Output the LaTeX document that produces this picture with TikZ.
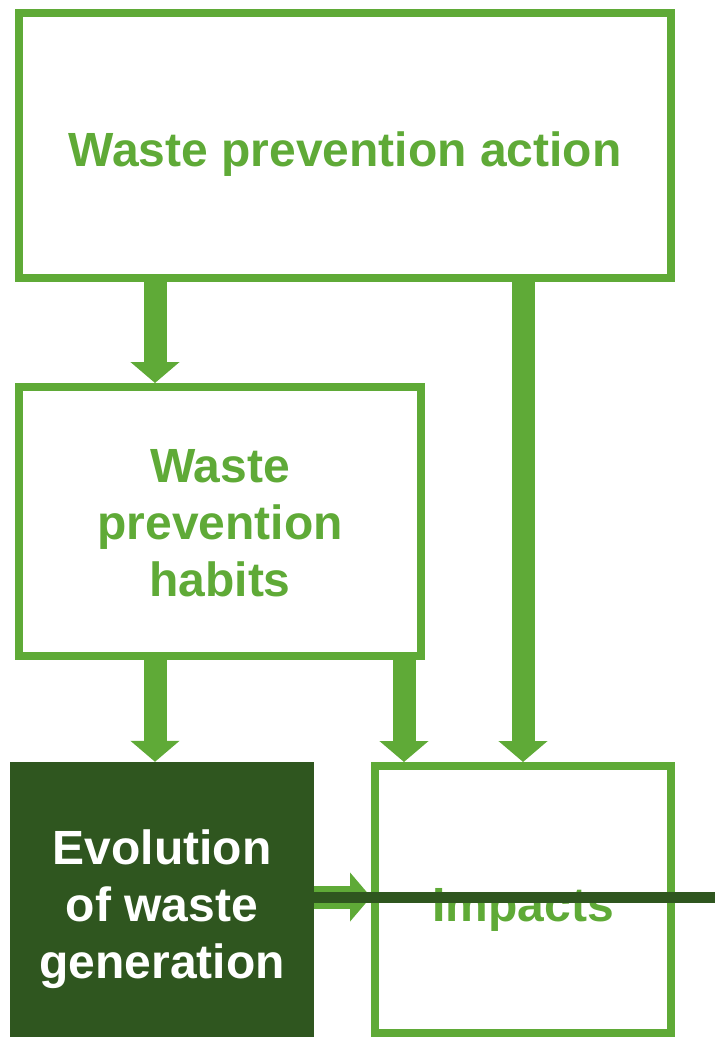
\documentclass[tikz,border=0pt]{standalone}
\usepackage{fontspec}
\setmainfont{Liberation Sans}
\usetikzlibrary{arrows.meta}
\definecolor{leaf}{RGB}{95,170,55}
\definecolor{forest}{RGB}{47,86,31}
\begin{document}
\begin{tikzpicture}[x=1pt, y=-1pt,
        box/.style={draw=leaf, line width=8pt, fill=white, inner sep=0pt, align=center,
            text=leaf, font=\fontsize{48}{57}\selectfont\bfseries},
        darkbox/.style={fill=forest, inner sep=0pt, align=center,
            text=white, font=\fontsize{48}{57}\selectfont\bfseries},
        flow/.style={leaf, line width=23pt, -{Triangle[width=48pt, length=21pt]}},
        thread/.style={forest, line width=11pt}]
        \useasboundingbox (0, 0) rectangle (715, 1037);

        \node[box, minimum width=652pt, minimum height=265pt, text height=51pt, text depth=10pt] (action) at (345, 145.5) {Waste prevention action};
        \node[box, minimum width=402pt, minimum height=269pt] (habits) at (220, 521.5) {\rule{0pt}{37pt}Waste\\prevention\\habits};
        \node[darkbox, minimum width=304pt, minimum height=275pt] (evolution) at (162, 899.5) {\rule{0pt}{55pt}Evolution\\of waste\\generation};
        \node[box, minimum width=296pt, minimum height=267pt, text height=53pt, text depth=10pt] (impacts) at (523, 899.5) {Impacts};

        \coordinate (left) at (155, 0);
        \coordinate (mid) at (404, 0);
        \coordinate (right) at (523, 0);
        \coordinate (edge) at (715, 897);

        \draw[flow] (action.south -| left) to (habits.north -| left);
        \draw[flow] (habits.south -| left) to (evolution.north -| left);
        \draw[flow] (habits.south -| mid) to (impacts.north -| mid);
        \draw[flow] (action.south -| right) to (impacts.north -| right);
        \draw[flow] (evolution.east |- edge) to (impacts.west |- edge);

        \draw[thread] (evolution.east |- edge) to (edge);
\end{tikzpicture}
\end{document}
